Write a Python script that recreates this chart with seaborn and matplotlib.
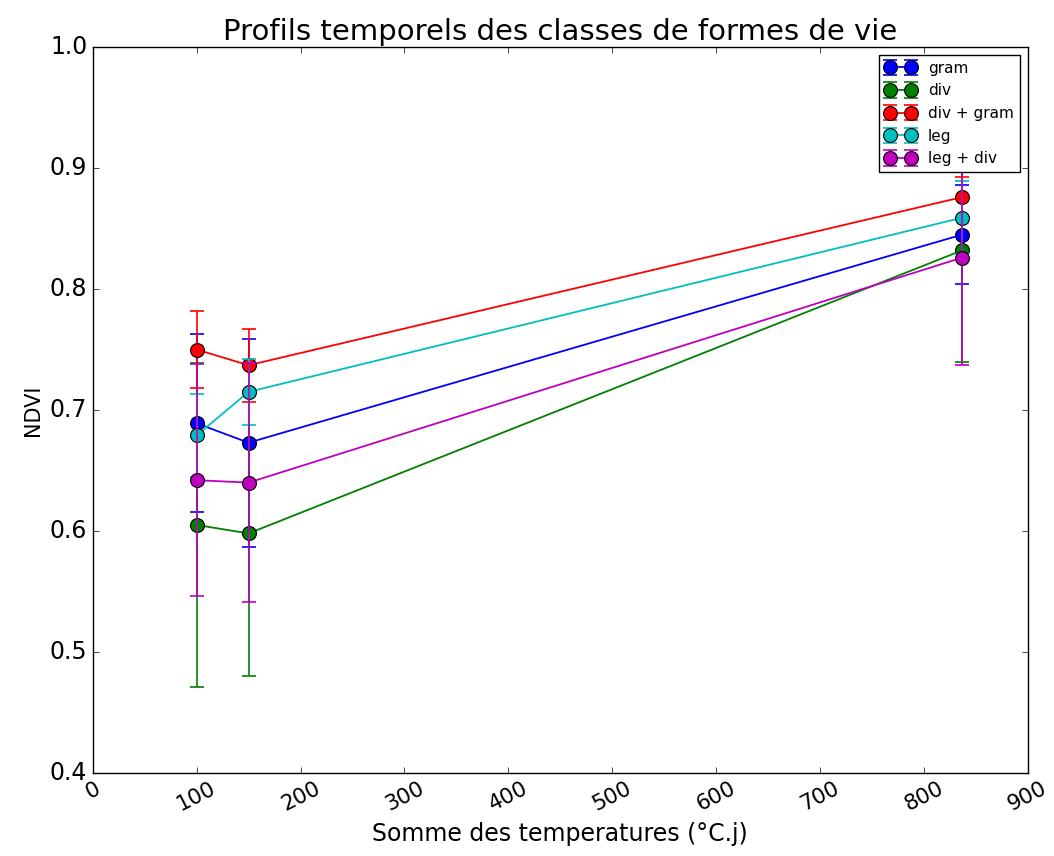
import pandas as pd
import matplotlib
matplotlib.use("Agg")
import matplotlib.pyplot as plt
import seaborn as sns

plt.style.use('classic')
plt.rcParams['font.family'] = ['DejaVu Sans']

# data
temps = [100, 150, 837]
classes = ['gram', 'div', 'div + gram', 'leg', 'leg + div']
colors = ['b', 'g', 'r', 'c', 'm']

gram = [0.689, 0.673, 0.845]
div = [0.605, 0.598, 0.832]
div_gram = [0.750, 0.737, 0.876]
leg = [0.679, 0.715, 0.859]
leg_div = [0.642, 0.640, 0.826]

gram_err = [0.0735, 0.086, 0.041]
div_err = [0.134, 0.118, 0.092]
div_gram_err = [0.032, 0.030, 0.017]
leg_err = [0.034, 0.027, 0.030]
leg_div_err = [0.096, 0.099, 0.089]

means = [gram, div, div_gram, leg, leg_div]
errs = [gram_err, div_err, div_gram_err, leg_err, leg_div_err]

rows = []
for name, vals, ee in zip(classes, means, errs):
    for t, v, e in zip(temps, vals, ee):
        rows.append({'temp': t, 'ndvi': v, 'err': e, 'classe': name})
df = pd.DataFrame(rows)

fig = plt.figure(figsize=(10.54, 8.56), dpi=100)
ax = fig.add_axes([0.088, 0.097, 0.887, 0.848])

handles = []
for name, col in zip(classes, colors):
    sub = df[df['classe'] == name]
    eb = ax.errorbar(sub['temp'], sub['ndvi'], yerr=sub['err'], fmt='none',
                     ecolor=col, elinewidth=1.2, capsize=5, capthick=1.2)
    sns.lineplot(data=sub, x='temp', y='ndvi', color=col, marker='o',
                 markersize=10, markeredgecolor='k', markeredgewidth=0.8,
                 linewidth=1.3, ax=ax, legend=False)
    handles.append((eb, ax.lines[-1]))

ax.set_xlim(0, 900)
ax.set_ylim(0.4, 1.0)
ax.set_xticks(range(0, 1000, 100))
ax.set_yticks([0.4, 0.5, 0.6, 0.7, 0.8, 0.9, 1.0])
ax.tick_params(axis='y', labelsize=17)
ax.tick_params(axis='x', labelsize=15.5)
plt.setp(ax.get_xticklabels(), rotation=27)
ax.set_title("Profils temporels des classes de formes de vie", fontsize=21, pad=5)
ax.set_xlabel("Somme des temperatures (°C.j)", fontsize=17)
ax.set_ylabel("NDVI", fontsize=15)

ax.legend(handles, classes, loc='upper right', fontsize=11, numpoints=2,
          borderaxespad=0.5, handlelength=2.0)

fig.savefig("out.png", dpi=100)
